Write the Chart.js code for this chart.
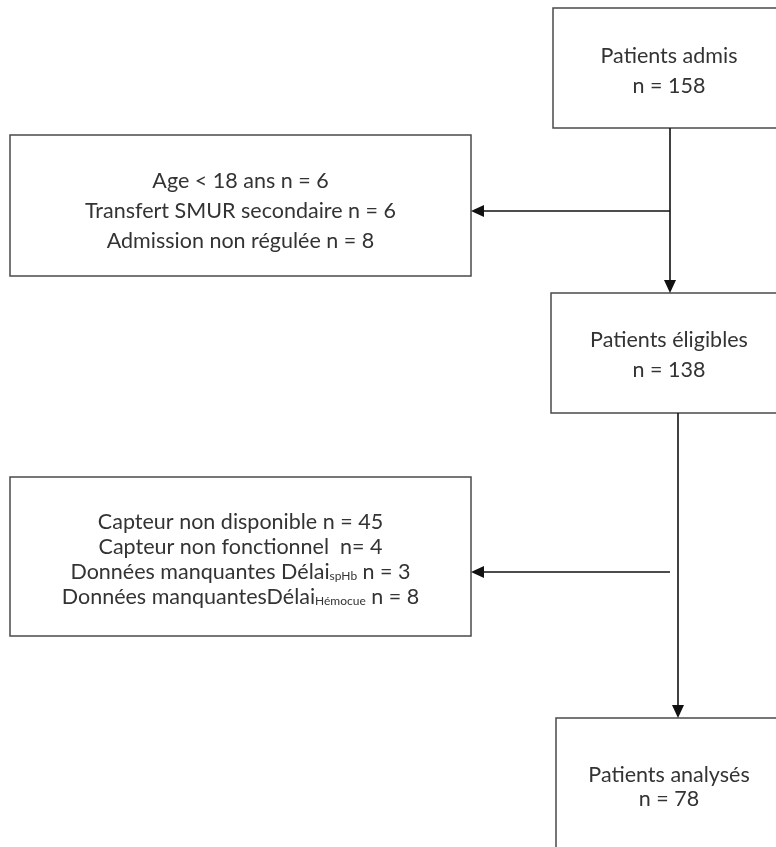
<!DOCTYPE html>
<html>
<head>
<meta charset="utf-8">
<script src="https://cdn.jsdelivr.net/npm/chart.js@4.4.1/dist/chart.umd.min.js"></script>
<style>
  html, body { margin: 0; padding: 0; background: #fff; }
  #wrap { width: 776px; height: 847px; }
</style>
</head>
<body>
<div id="wrap"><canvas id="chart" width="776" height="847"></canvas></div>
<script>
// flow steps
const steps = ['Patients admis', 'Patients éligibles', 'Patients analysés'];
const stepCounts = [158, 138, 78];

// first exclusion
const excl1Reasons = ['Age < 18 ans', 'Transfert SMUR secondaire', 'Admission non régulée'];
const excl1Counts = [6, 6, 8];

// second exclusion (some reasons carry a small subscript)
const excl2Reasons = ['Capteur non disponible', 'Capteur non fonctionnel', 'Données manquantes Délai', 'Données manquantesDélai'];
const excl2Subs = ['', '', 'spHb', 'Hémocue'];
const excl2Seps = [' n = ', '  n= ', ' n = ', ' n = '];
const excl2Counts = [45, 4, 3, 8];

// layout, in scale units (0..776 across, 0..847 down)
const layout = {
  steps: [
    { x0: 553, y0: 8, x1: 790, y1: 128, lines: [56, 86] },
    { x0: 551, y0: 293, x1: 790, y1: 413, lines: [340, 370] },
    { x0: 556, y0: 718, x1: 790, y1: 860, lines: [775, 799] }
  ],
  excl: [
    { x0: 10, y0: 135, x1: 471, y1: 276, lines: [181, 211, 241] },
    { x0: 10, y0: 477, x1: 471, y1: 636, lines: [522, 547, 572, 597] }
  ],
  textX: 669,
  down: [ { x: 670, y0: 128, y1: 293 }, { x: 678, y0: 413, y1: 718 } ],
  side: [ { y: 211, x0: 670, x1: 471 }, { y: 572, x0: 670, x1: 471 } ]
};

const FONT = 'Lato, "Open Sans", sans-serif';
const TEXT_PX = 21.5;
const SUB_PX = 12;

function segs(i) {
  const out = [{ t: excl2Reasons[i], sub: false }];
  if (excl2Subs[i]) out.push({ t: excl2Subs[i], sub: true });
  out.push({ t: excl2Seps[i] + excl2Counts[i], sub: false });
  return out;
}

const flowPlugin = {
  id: 'flow',
  afterDraw(chart) {
    const { ctx, scales: { x, y } } = chart;
    const px = v => x.getPixelForValue(v);
    const py = v => y.getPixelForValue(v);

    ctx.save();
    ctx.lineWidth = 1.5;
    ctx.strokeStyle = '#4a4a4a';

    const box = b => {
      ctx.strokeRect(px(b.x0), py(b.y0), px(b.x1) - px(b.x0), py(b.y1) - py(b.y0));
    };

    const writeLine = (parts, cx, cy) => {
      let w = 0;
      parts.forEach(p => {
        ctx.font = (p.sub ? SUB_PX : TEXT_PX) + 'px ' + FONT;
        p.w = ctx.measureText(p.t).width;
        w += p.w;
      });
      let xx = cx - w / 2;
      ctx.textAlign = 'left';
      parts.forEach(p => {
        ctx.font = (p.sub ? SUB_PX : TEXT_PX) + 'px ' + FONT;
        ctx.textBaseline = 'middle';
        ctx.fillText(p.t, xx, p.sub ? cy + 4 : cy);
        xx += p.w;
      });
    };

    ctx.fillStyle = '#333';
    layout.steps.forEach((b, i) => {
      box(b);
      const mid = px(layout.textX);
      writeLine([{ t: steps[i] }], mid, py(b.lines[0]));
      writeLine([{ t: 'n = ' + stepCounts[i] }], mid, py(b.lines[1]));
    });

    const e1 = layout.excl[0];
    box(e1);
    excl1Reasons.forEach((r, i) => {
      writeLine([{ t: r + ' n = ' + excl1Counts[i] }], px((e1.x0 + e1.x1) / 2), py(e1.lines[i]));
    });

    const e2 = layout.excl[1];
    box(e2);
    excl2Reasons.forEach((r, i) => {
      writeLine(segs(i), px((e2.x0 + e2.x1) / 2), py(e2.lines[i]));
    });

    // arrows
    ctx.strokeStyle = '#111';
    ctx.fillStyle = '#111';
    ctx.lineWidth = 1.6;
    const head = (tx, ty, dx, dy) => {
      const L = 13, H = 6;
      ctx.beginPath();
      ctx.moveTo(tx, ty);
      ctx.lineTo(tx - dx * L - dy * H, ty - dy * L - dx * H);
      ctx.lineTo(tx - dx * L + dy * H, ty - dy * L + dx * H);
      ctx.closePath();
      ctx.fill();
    };
    layout.down.forEach(a => {
      ctx.beginPath();
      ctx.moveTo(px(a.x), py(a.y0));
      ctx.lineTo(px(a.x), py(a.y1) - 6);
      ctx.stroke();
      head(px(a.x), py(a.y1), 0, 1);
    });
    layout.side.forEach(a => {
      ctx.beginPath();
      ctx.moveTo(px(a.x0), py(a.y));
      ctx.lineTo(px(a.x1) + 6, py(a.y));
      ctx.stroke();
      head(px(a.x1), py(a.y), -1, 0);
    });
    ctx.restore();
  }
};

new Chart(document.getElementById('chart'), {
  type: 'scatter',
  data: { datasets: [] },
  options: {
    responsive: false,
    animation: false,
    devicePixelRatio: 1,
    layout: { padding: 0 },
    plugins: { legend: { display: false }, tooltip: { enabled: false } },
    scales: {
      x: { type: 'linear', min: 0, max: 776, display: false },
      y: { type: 'linear', min: 0, max: 847, reverse: true, display: false }
    }
  },
  plugins: [flowPlugin]
});
</script>
</body>
</html>
